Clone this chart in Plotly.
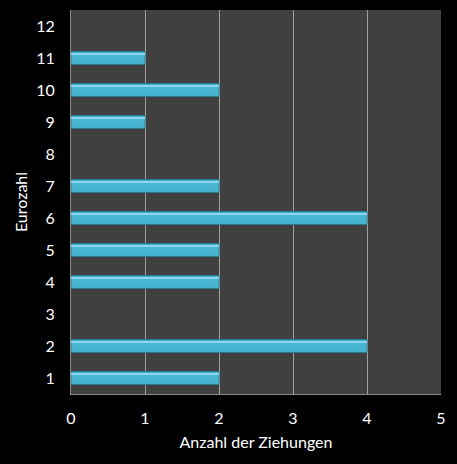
import plotly.graph_objects as go

# Data
eurozahl = [1, 2, 3, 4, 5, 6, 7, 8, 9, 10, 11, 12]
anzahl = [2, 4, 0, 2, 2, 4, 2, 0, 1, 2, 1, 0]

fig = go.Figure()

# main bars (no outline on empty categories)
fig.add_trace(
    go.Bar(
        x=anzahl,
        y=eurozahl,
        orientation='h',
        width=0.4,
        marker=dict(
            color='#48b6d3',
            line=dict(color='#2a7a90', width=[1 if v else 0 for v in anzahl])
        ),
        showlegend=False,
        hoverinfo='x+y'
    )
)

# light glossy band along the top edge of each bar
fig.add_trace(
    go.Bar(
        x=anzahl,
        y=eurozahl,
        orientation='h',
        width=0.07,
        offset=0.09,
        marker=dict(color='#86d8ec', line=dict(width=0)),
        showlegend=False,
        hoverinfo='skip'
    )
)

fig.update_layout(
    width=457,
    height=464,
    barmode='overlay',
    paper_bgcolor='black',
    plot_bgcolor='#404040',
    font=dict(family='Lato, Open Sans, sans-serif', color='white', size=16),
    margin=dict(l=71, r=16, t=10, b=70)
)

fig.update_xaxes(
    range=[0, 5],
    dtick=1,
    showgrid=True,
    gridcolor='#a0a0a0',
    gridwidth=1,
    showline=True,
    linecolor='#8a8a8a',
    zeroline=False,
    ticks='',
    ticklabelstandoff=10,
    title_text='Anzahl der Ziehungen',
    title_font=dict(size=16),
    title_standoff=10
)
fig.update_yaxes(
    range=[0.5, 12.5],
    tickvals=eurozahl,
    showgrid=False,
    showline=True,
    linecolor='#8a8a8a',
    zeroline=False,
    ticks='',
    ticklabelstandoff=12,
    title_text='Eurozahl',
    title_font=dict(size=16),
    title_standoff=4
)

fig.write_html(
    "out.html",
    config=dict(displayModeBar=False),
    post_script="document.body.style.margin='0';document.body.style.background='black';"
)
